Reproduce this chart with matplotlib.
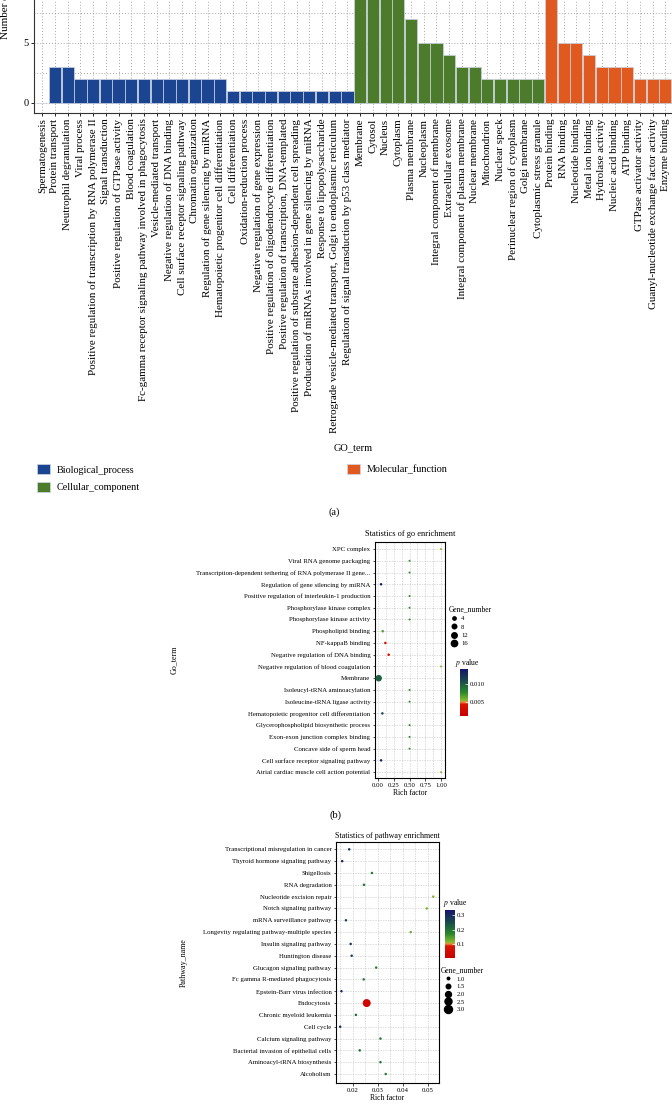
import matplotlib
matplotlib.use('Agg')
import matplotlib.pyplot as plt
import numpy as np
from matplotlib.colors import LinearSegmentedColormap, Normalize
from matplotlib.patches import Patch
from matplotlib.lines import Line2D
from matplotlib.ticker import MultipleLocator

plt.rcParams['font.family'] = ['Liberation Serif', 'DejaVu Serif']
plt.rcParams['mathtext.fontset'] = 'stix'

# ---- (a) GO term counts ----
bp_terms = [
    'Spermatogenesis', 'Protein transport', 'Neutrophil degranulation',
    'Viral process', 'Positive regulation of transcription by RNA polymerase II',
    'Signal transduction', 'Positive regulation of GTPase activity',
    'Blood coagulation',
    'Fc-gamma receptor signaling pathway involved in phagocytosis',
    'Vesicle-mediated transport', 'Negative regulation of DNA binding',
    'Cell surface receptor signaling pathway', 'Chromatin organization',
    'Regulation of gene silencing by miRNA',
    'Hematopoietic progenitor cell differentiation', 'Cell differentiation',
    'Oxidation-reduction process', 'Negative regulation of gene expression',
    'Positive regulation of oligodendrocyte differentiation',
    'Positive regulation of transcription, DNA-templated',
    'Positive regulation of substrate adhesion-dependent cell spreading',
    'Producation of miRNAs involved in gene silencing by miRNA',
    'Response to lipopolysaccharide',
    'Retrograde vesicle-mediated transport, Golgi to endoplasmic reticulum',
    'Regulation of signal transduction by p53 class mediator',
]
bp_counts = [0, 3, 3, 2, 2, 2, 2, 2, 2, 2, 2, 2, 2, 2, 2,
             1, 1, 1, 1, 1, 1, 1, 1, 1, 1]

cc_terms = [
    'Membrane', 'Cytosol', 'Nucleus', 'Cytoplasm', 'Plasma membrane',
    'Nucleoplasm', 'Integral component of membrane', 'Extracellular exosome',
    'Integral component of plasma membrane', 'Nuclear membrane',
    'Mitochondrion', 'Nuclear speck', 'Perinuclear region of cytoplasm',
    'Golgi membrane', 'Cytoplasmic stress granule',
]
cc_counts = [17, 14, 12, 10, 7, 5, 5, 4, 3, 3, 2, 2, 2, 2, 2]

mf_terms = [
    'Protein binding', 'RNA binding', 'Nucleotide binding', 'Metal ion binding',
    'Hydrolase activity', 'Nucleic acid binding', 'ATP binding',
    'GTPase activator activity', 'Guanyl-nucleotide exchange factor activity',
    'Enzyme binding',
]
mf_counts = [13, 5, 5, 4, 3, 3, 3, 2, 2, 2]

group_names = ['Biological_process', 'Cellular_component', 'Molecular_function']
group_colors = ['#1b4591', '#4b7b2b', '#e05a1f']

# ---- (b) GO enrichment (bottom to top) ----
go_terms = [
    'Atrial cardiac muscle cell action potential',
    'Cell surface receptor signaling pathway',
    'Concave side of sperm head',
    'Exon-exon junction complex binding',
    'Glycerophospholipid biosynthetic process',
    'Hematopoietic progenitor cell differentiation',
    'Isoleucine-tRNA ligase activity',
    'Isoleucyl-tRNA aminoacylation',
    'Membrane',
    'Negative regulation of blood coagulation',
    'Negative regulation of DNA binding',
    'NF-kappaB binding',
    'Phospholipid binding',
    'Phosphorylase kinase activity',
    'Phosphorylase kinase complex',
    'Positive regulation of interleukin-1 production',
    'Regulation of gene silencing by miRNA',
    'Transcription-dependent tethering of RNA polymerase II gene...',
    'Viral RNA genome packaging',
    'XPC complex',
]
go_rich = [1.0, 0.048, 0.5, 0.5, 0.5, 0.069, 0.5, 0.5, 0.01, 1.0,
           0.169, 0.116, 0.074, 0.5, 0.5, 0.5, 0.048, 0.5, 0.5, 1.0]
go_genes = [1, 2, 1, 1, 1, 2, 1, 1, 17, 1, 2, 2, 2, 1, 1, 1, 2, 1, 1, 1]
go_p = [0.0055, 0.0135, 0.0075, 0.0075, 0.0075, 0.0110, 0.0075, 0.0075,
        0.0098, 0.0055, 0.0030, 0.0040, 0.0068, 0.0075, 0.0075, 0.0075,
        0.0135, 0.0075, 0.0075, 0.0055]

# ---- (c) pathway enrichment (bottom to top) ----
pw_names = [
    'Alcoholism', 'Aminoacyl-tRNA biosynthesis',
    'Bacterial invasion of epithelial cells', 'Calcium signaling pathway',
    'Cell cycle', 'Chronic myeloid leukemia', 'Endocytosis',
    'Epstein-Barr virus infection', 'Fc gamma R-mediated phagocytosis',
    'Glucagon signaling pathway', 'Huntington disease',
    'Insulin signaling pathway',
    'Longevity regulating pathway-multiple species',
    'mRNA surveillance pathway', 'Notch signaling pathway',
    'Nucleotide excision repair', 'RNA degradation', 'Shigellosis',
    'Thyroid hormone signaling pathway',
    'Transcriptional misregulation in cancer',
]
pw_rich = [0.0332, 0.0311, 0.0228, 0.0311, 0.0150, 0.0213, 0.0256, 0.0155,
           0.0244, 0.0294, 0.0196, 0.0192, 0.0432, 0.0173, 0.0496, 0.0522,
           0.0245, 0.0277, 0.0158, 0.0186]
pw_genes = [1, 1, 1, 1, 1, 1, 3, 1, 1, 1, 1, 1, 1, 1, 1, 1, 1, 1, 1, 1]
pw_p = [0.19, 0.20, 0.21, 0.20, 0.31, 0.21, 0.03, 0.31, 0.20, 0.19,
        0.28, 0.28, 0.13, 0.27, 0.12, 0.12, 0.20, 0.19, 0.31, 0.29]

cmap = LinearSegmentedColormap.from_list('pv', [
    (0.0, '#c80000'), (0.25, '#d81500'), (0.295, '#e88a40'),
    (0.33, '#8ab830'), (0.5, '#2a8a2a'), (0.72, '#1a5048'), (1.0, '#15156e')])

W, H = 672, 1105


def box(x0, y0, x1, y1):
    return [x0 / W, 1 - y1 / H, (x1 - x0) / W, (y1 - y0) / H]


fig = plt.figure(figsize=(W / 100, H / 100), dpi=100)
grid_ls = (0, (1, 2.5))

# ---------------- panel (a) ----------------
ax = fig.add_axes(box(34, -112, 673, 113))
terms = bp_terms + cc_terms + mf_terms
counts = bp_counts + cc_counts + mf_counts
colors = ([group_colors[0]] * len(bp_terms) + [group_colors[1]] * len(cc_terms)
          + [group_colors[2]] * len(mf_terms))
x = np.arange(len(terms))
ax.bar(x, counts, width=0.96, color=colors, edgecolor='#c9d3e0',
       linewidth=0.5, zorder=2)
ax.set_xlim(-0.65, len(terms) - 0.4)
ax.set_ylim(-0.86, 17.9)
ax.set_xticks(x)
ax.set_xticklabels(terms, rotation=90, fontsize=7.9)
ax.set_yticks([0, 5])
ax.yaxis.set_minor_locator(MultipleLocator(2.5))
ax.tick_params(axis='both', which='major', length=2.5, width=0.6, pad=1.5)
ax.tick_params(axis='y', which='major', labelsize=7.5)
ax.tick_params(axis='y', which='minor', length=0)
ax.set_axisbelow(True)
ax.grid(axis='y', which='both', ls=grid_ls, lw=0.6, color='#8a8a8a')
ax.grid(axis='x', which='major', ls=grid_ls, lw=0.6, color='#8a8a8a')
for s in ['top', 'right']:
    ax.spines[s].set_visible(False)
for s in ['left', 'bottom']:
    ax.spines[s].set_linewidth(0.8)
    ax.spines[s].set_color('#333333')
ax.set_ylabel('Number of genes', fontsize=8)
ax.yaxis.set_label_coords(-24 / 639, 0.5)

fig.text(353 / W, 1 - 448 / H, 'GO_term', ha='center', va='center',
         fontsize=7.5)
handles = [Patch(facecolor=c, edgecolor='#d0d8e8', linewidth=0.5, label=n)
           for c, n in zip(group_colors, group_names)]
fig.legend(handles=handles, loc='upper left',
           bbox_to_anchor=(37 / W, 1 - 464 / H), ncol=2, frameon=False,
           fontsize=7.3, handlelength=1.3, handleheight=1.2,
           handletextpad=0.6, labelspacing=0.7, columnspacing=20.5,
           borderpad=0, borderaxespad=0)
fig.text(334 / W, 1 - 512 / H, '(a)', ha='center', va='center', fontsize=7.5)


def dot_panel(axd, rich, genes, pvals, names, size_fn, norm):
    yy = np.arange(len(names))
    sc = axd.scatter(rich, yy, s=[size_fn(g) for g in genes], c=pvals,
                     cmap=cmap, norm=norm, linewidths=0, zorder=3)
    axd.set_yticks(yy)
    axd.set_yticklabels(names)
    axd.set_axisbelow(True)
    axd.grid(which='both', ls=(0, (1, 2)), lw=0.4, color='#9a9a9a')
    axd.tick_params(which='major', length=1.8, width=0.5, labelsize=4.9,
                    pad=1.5)
    axd.tick_params(which='minor', length=0)
    for s in axd.spines.values():
        s.set_linewidth(0.8)
    return sc


# ---------------- panel (b) ----------------
size_b = lambda g: 1.25 * g + 0.8
axb = fig.add_axes(box(375, 542, 445, 778))
norm_b = Normalize(0.0011, 0.0142)
sc_b = dot_panel(axb, go_rich, go_genes, go_p, go_terms, size_b, norm_b)
axb.set_xlim(-0.048, 1.063)
axb.set_ylim(-0.5, 19.6)
axb.set_xticks([0, 0.25, 0.5, 0.75, 1.0])
axb.set_xticklabels(['0.00', '0.25', '0.50', '0.75', '1.00'])
axb.xaxis.set_minor_locator(MultipleLocator(0.125))
axb.set_xlabel('Rich factor', fontsize=5.5, labelpad=1)
axb.set_ylabel('Go_term', fontsize=5.8)
axb.yaxis.set_label_coords((178 - 375) / 70, 0.5)
axb.set_title('Statistics of go enrichment', fontsize=6, pad=4)

hb = [Line2D([], [], marker='o', ls='', color='black',
             markersize=np.sqrt(size_b(g))) for g in [4, 8, 12, 16]]
fig.legend(handles=hb, labels=['4', '8', '12', '16'], title='Gene_number',
           loc='upper left', bbox_to_anchor=(449 / W, 1 - 605 / H),
           frameon=False, fontsize=4.8, title_fontsize=5.5, alignment='left',
           handletextpad=0.3, labelspacing=0.4, borderpad=0,
           borderaxespad=0, handlelength=1.5)
fig.text(455 / W, 1 - 663 / H, '$p$ value', ha='left', va='center',
         fontsize=5.5)
cax_b = fig.add_axes(box(460, 669, 468, 716))
cb_b = fig.colorbar(sc_b, cax=cax_b, ticks=[0.005, 0.010])
cb_b.ax.set_yticklabels(['0.005', '0.010'])
cb_b.outline.set_visible(False)
cax_b.tick_params(length=2, width=0.5, color='white', direction='in',
                  labelsize=4.8, pad=1.5)
fig.text(336 / W, 1 - 815 / H, '(b)', ha='center', va='center', fontsize=7.5)

# ---------------- panel (c) ----------------
size_c = lambda g: 3.2 + (g - 1) * 15
axc = fig.add_axes(box(336, 842, 439, 1083))
norm_c = Normalize(0.003, 0.335)
sc_c = dot_panel(axc, pw_rich, pw_genes, pw_p, pw_names, size_c, norm_c)
axc.set_xlim(0.01333, 0.0545)
axc.set_ylim(-0.76, 19.62)
axc.set_xticks([0.02, 0.03, 0.04, 0.05])
axc.set_xticklabels(['0.02', '0.03', '0.04', '0.05'])
axc.xaxis.set_minor_locator(MultipleLocator(0.005))
axc.set_xlabel('Rich factor', fontsize=5.5, labelpad=1)
axc.set_ylabel('Pathway_name', fontsize=5.8)
axc.yaxis.set_label_coords((188 - 336) / 103, 0.5)
axc.set_title('Statistics of pathway enrichment', fontsize=5.8, pad=3)

fig.text(443 / W, 1 - 903 / H, '$p$ value', ha='left', va='center',
         fontsize=5.5)
cax_c = fig.add_axes(box(445, 910, 455, 958))
cb_c = fig.colorbar(sc_c, cax=cax_c, ticks=[0.1, 0.2, 0.3])
cb_c.ax.set_yticklabels(['0.1', '0.2', '0.3'])
cb_c.outline.set_visible(False)
cax_c.tick_params(length=2, width=0.5, color='white', direction='in',
                  labelsize=4.8, pad=1.5)
gc = [1.0, 1.5, 2.0, 2.5, 3.0]
hc = [Line2D([], [], marker='o', ls='', color='black',
             markersize=np.sqrt(size_c(g))) for g in gc]
fig.legend(handles=hc, labels=[f'{g:.1f}' for g in gc], title='Gene_number',
           loc='upper left', bbox_to_anchor=(441 / W, 1 - 966 / H),
           frameon=False, fontsize=4.8, title_fontsize=5.5, alignment='left',
           handletextpad=0.3, labelspacing=0.3, borderpad=0,
           borderaxespad=0, handlelength=2.0)

fig.savefig('out.png', dpi=100)
